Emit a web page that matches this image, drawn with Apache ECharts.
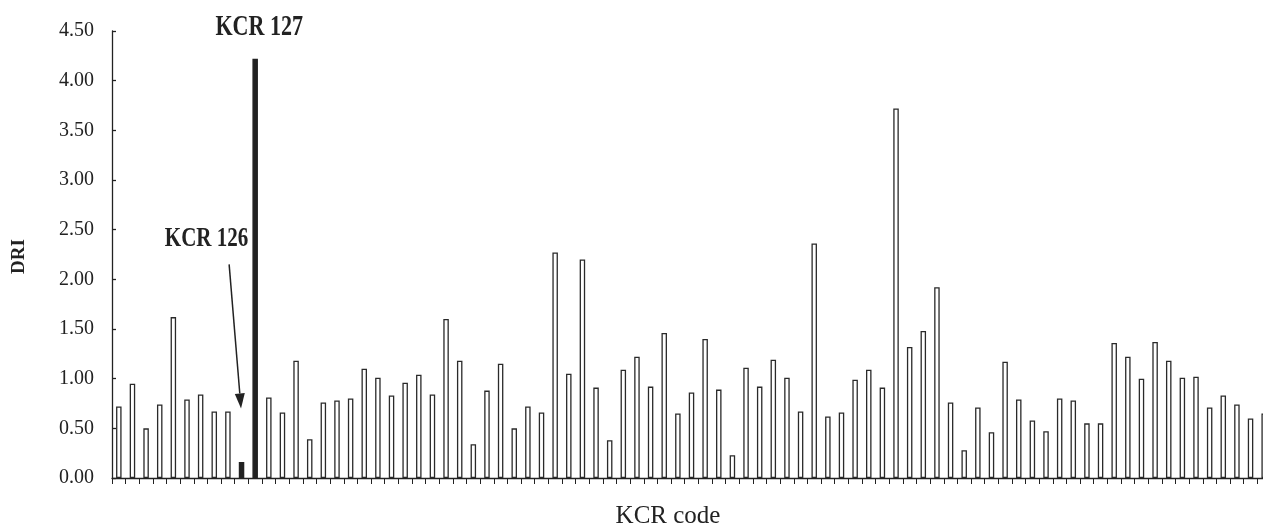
<!DOCTYPE html>
<html>
<head>
<meta charset="utf-8">
<script src="https://cdn.jsdelivr.net/npm/echarts@6/dist/echarts.min.js"></script>
<style>
html,body{margin:0;padding:0;background:#fff;overflow:hidden;}
#chart{width:1272px;height:531px;}
</style>
</head>
<body>
<div id="chart"></div>
<script>
// ---- data ----
const categories = [];
for (let i = 0; i < 85; i++) categories.push('KCR ' + (117 + i));

const driValues = [
  0.72, 0.95, 0.50, 0.74, 1.62, 0.79, 0.84, 0.67, 0.67, 0.16,
  4.22, 0.81, 0.66, 1.18, 0.39, 0.76, 0.78, 0.80, 1.10, 1.01,
  0.83, 0.96, 1.04, 0.84, 1.60, 1.18, 0.34, 0.88, 1.15, 0.50,
  0.72, 0.66, 2.27, 1.05, 2.20, 0.91, 0.38, 1.09, 1.22, 0.92,
  1.46, 0.65, 0.86, 1.40, 0.89, 0.23, 1.11, 0.92, 1.19, 1.01,
  0.67, 2.36, 0.62, 0.66, 0.99, 1.09, 0.91, 3.72, 1.32, 1.48,
  1.92, 0.76, 0.28, 0.71, 0.46, 1.17, 0.79, 0.58, 0.47, 0.80,
  0.78, 0.55, 0.55, 1.36, 1.22, 1.00, 1.37, 1.18, 1.01, 1.02,
  0.71, 0.83, 0.74, 0.60, 0.65
];

const highlighted = ['KCR 126', 'KCR 127'];
const yMin = 0, yMax = 4.5, yStep = 0.5;

// ---- chart ----
const chart = echarts.init(document.getElementById('chart'), null, {renderer: 'canvas'});
const serif = '"Liberation Serif", "Times New Roman", serif';
const ink = '#222';

const seriesData = driValues.map((v, i) => {
  const hi = highlighted.indexOf(categories[i]) >= 0;
  return {
    value: v,
    itemStyle: hi
      ? {color: ink, borderColor: ink, borderWidth: 1.3}
      : {color: '#fff', borderColor: '#2a2a2a', borderWidth: 1.3}
  };
});

const option = {
  animation: false,
  backgroundColor: '#fff',
  grid: {left: 112, top: 31, width: 1159, height: 447, containLabel: false},
  xAxis: {
    type: 'category',
    data: categories,
    boundaryGap: true,
    axisLine: {show: true, lineStyle: {color: ink, width: 1.3}},
    axisTick: {show: true, inside: false, interval: 0, length: 6, lineStyle: {color: ink, width: 1}},
    axisLabel: {show: false, interval: 0},
    splitLine: {show: false}
  },
  yAxis: {
    type: 'value',
    min: yMin, max: yMax, interval: yStep,
    axisLine: {show: true, lineStyle: {color: ink, width: 1.3}},
    axisTick: {show: true, inside: true, length: 4, lineStyle: {color: ink, width: 1.3}},
    axisLabel: {
      margin: 18, color: ink, fontFamily: serif, fontSize: 20,
      formatter: v => v.toFixed(2)
    },
    splitLine: {show: false}
  },
  series: [{
    type: 'bar',
    data: seriesData,
    barWidth: 5.5,
    silent: true
  }]
};
chart.setOption(option);

// ---- annotations placed from data coordinates ----
const i126 = categories.indexOf('KCR 126');
const i127 = categories.indexOf('KCR 127');
const px = (idx, v) => chart.convertToPixel({gridIndex: 0}, [idx, v]);
const c126 = px(i126, 0);
const c127 = px(i127, 0);
const yTop = px(0, yMax)[1];

const tip = [c126[0] - 0.5, px(i126, 0.70)[1]];
const start = [c126[0] - 12.4, px(i126, 2.15)[1]];
const dx = tip[0] - start[0], dy = tip[1] - start[1];
const len = Math.sqrt(dx * dx + dy * dy);
const ux = dx / len, uy = dy / len;
const headLen = 15, headHalf = 5;
const base = [tip[0] - ux * headLen, tip[1] - uy * headLen];
const p1 = [base[0] - uy * headHalf, base[1] + ux * headHalf];
const p2 = [base[0] + uy * headHalf, base[1] - ux * headHalf];

chart.setOption({
  graphic: [
    {
      type: 'text', x: c127[0] + 4, y: yTop - 3, scaleX: 0.76,
      style: {text: 'KCR 127', font: 'bold 29px ' + serif, fill: ink, align: 'center', verticalAlign: 'middle'}
    },
    {
      type: 'text', x: c126[0] - 35, y: px(i126, 2.41)[1], scaleX: 0.75,
      style: {text: 'KCR 126', font: 'bold 28px ' + serif, fill: ink, align: 'center', verticalAlign: 'middle'}
    },
    {
      type: 'line',
      shape: {x1: start[0], y1: start[1], x2: base[0], y2: base[1]},
      style: {stroke: ink, lineWidth: 1.5}
    },
    {
      type: 'polygon',
      shape: {points: [tip, p1, p2]},
      style: {fill: ink}
    },
    {
      type: 'text', x: 19, y: (yTop + c126[1]) / 2 + 2, rotation: Math.PI / 2,
      style: {text: 'DRI', font: 'bold 19px ' + serif, fill: ink, align: 'center', verticalAlign: 'middle'}
    },
    {
      type: 'text', x: 668, y: 516,
      style: {text: 'KCR code', font: '25px ' + serif, fill: ink, align: 'center', verticalAlign: 'middle'}
    }
  ]
});
</script>
</body>
</html>
